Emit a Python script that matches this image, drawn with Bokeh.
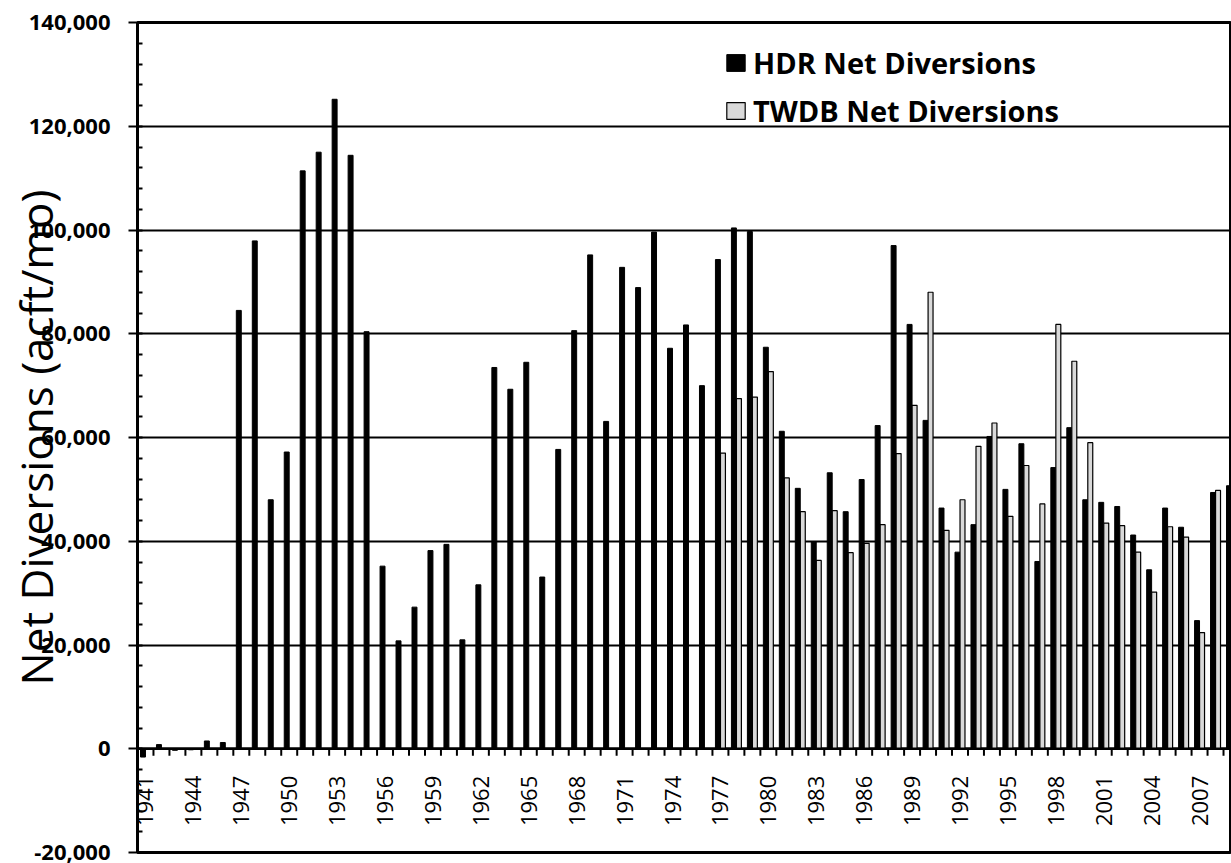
import math
from bokeh.plotting import figure
from bokeh.models import (ColumnDataSource, FixedTicker, NumeralTickFormatter, Range1d,
                          Legend, LegendItem, Span)
from bokeh.core.properties import value
from bokeh.embed import file_html
from bokeh.resources import INLINE

# ---------------- data ----------------
years = list(range(1941, 2010))
hdr = [-1600, 800, -300, -200, 1500, 1200, 84500, 97900, 48000, 57200,
       111400, 115000, 125200, 114400, 80400, 35200, 20800, 27300, 38200, 39400,
       21000, 31600, 73500, 69300, 74500, 33100, 57700, 80600, 95200, 63100,
       92800, 88900, 99600, 77200, 81700, 70000, 94300, 100400, 99700, 77400,
       61200, 50200, 39900, 53200, 45700, 51900, 62300, 97000, 81800, 63300,
       46400, 37900, 43200, 60200, 50000, 58800, 36100, 54200, 61900, 48000,
       47500, 46700, 41200, 34500, 46400, 42700, 24700, 49400, 50700]
twdb_years = list(range(1977, 2009))
twdb = [57000, 67500, 67800, 72700, 52200, 45700, 36300, 45900, 37800, 39600,
        43200, 56900, 66200, 88000, 42100, 48000, 58300, 62800, 44800, 54600,
        47200, 81800, 74700, 59000, 43500, 43000, 37900, 30200, 42800, 40800,
        22400, 49800]
label_years = list(range(1941, 2008, 3))
y_major = list(range(-20000, 140001, 20000))
y_minor = list(range(-20000, 140001, 4000))

series_names = ["HDR Net Diversions", "TWDB Net Diversions"]
y_title = "Net Diversions (acft/mo)"

# ---------------- styling constants ----------------
BAR_OFF = 0.157
BAR_W = 0.31
TICK_LEN = 1350        # data units (~7 px)
LABEL_Y = -5200        # data units (~27 px below zero)

p = figure(width=1231, height=863, output_backend="svg", toolbar_location=None,
           x_range=Range1d(1940.5, 2009.0), y_range=Range1d(-20000, 140000),
           x_axis_location=None, min_border_left=137, min_border_right=0,
           min_border_top=22, min_border_bottom=11, background_fill_color="white",
           border_fill_color="white")

p.outline_line_color = "black"
p.outline_line_width = 3
p.xgrid.visible = False
p.ygrid.ticker = FixedTicker(ticks=y_major)
p.ygrid.grid_line_color = "black"
p.ygrid.grid_line_width = 2

ax = p.yaxis[0]
ax.ticker = FixedTicker(ticks=y_major, minor_ticks=y_minor)
ax.formatter = NumeralTickFormatter(format="0,0")
ax.axis_line_width = 3
ax.axis_line_color = "black"
ax.major_tick_out = 9
ax.major_tick_in = 0
ax.major_tick_line_width = 2
ax.minor_tick_out = 0
ax.minor_tick_in = 5
ax.minor_tick_line_width = 2
ax.major_label_text_font = "Open Sans"
ax.major_label_text_font_style = "bold"
ax.major_label_text_font_size = "22px"
ax.major_label_text_color = "black"
ax.major_label_standoff = 18
ax.axis_label = y_title
ax.axis_label_text_font = "Open Sans"
ax.axis_label_text_font_style = "normal"
ax.axis_label_text_font_size = "44px"
ax.axis_label_text_color = "black"
ax.axis_label_standoff = -40

# zero axis line
p.add_layout(Span(location=0, dimension="width", line_color="black", line_width=2.5))

# bars
src_h = ColumnDataSource(dict(x=[y - BAR_OFF for y in years], top=hdr))
src_t = ColumnDataSource(dict(x=[y + BAR_OFF for y in twdb_years], top=twdb))
r1 = p.vbar(x="x", top="top", bottom=0, width=BAR_W, source=src_h,
            fill_color="black", line_color="black", line_width=1)
r2 = p.vbar(x="x", top="top", bottom=0, width=BAR_W, source=src_t,
            fill_color="#d9d9d9", line_color="black", line_width=1.2)

# category tick marks below zero line
bounds = [y - 0.5 for y in years]
p.segment(x0=bounds, y0=[0] * len(bounds), x1=bounds, y1=[-TICK_LEN] * len(bounds),
          line_color="black", line_width=2)

# rotated year labels
p.text(x=label_years, y=[LABEL_Y] * len(label_years), text=[str(y) for y in label_years],
       angle=math.pi / 2, text_align="right", text_baseline="middle",
       text_font=value("Open Sans"), text_font_size="22px", text_color="black")

# legend
legend = Legend(items=[LegendItem(label=series_names[0], renderers=[r1]),
                       LegendItem(label=series_names[1], renderers=[r2])],
                location=(587, 722), padding=0, margin=0, spacing=9,
                glyph_width=23, glyph_height=21, label_standoff=6,
                label_text_font="Open Sans", label_text_font_style="bold",
                label_text_font_size="29px", label_text_color="black",
                background_fill_alpha=0, border_line_alpha=0)
p.add_layout(legend)

open("out.html", "w").write(file_html(p, INLINE))
